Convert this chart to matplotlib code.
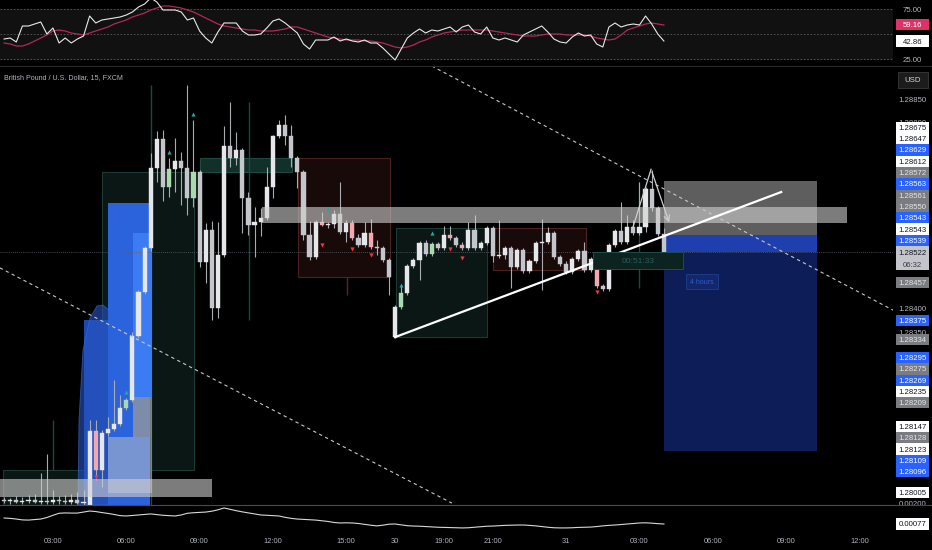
# graphique GBPUSD 15 min, style tradingview sombre

import numpy as np
import matplotlib
matplotlib.use("Agg")
import matplotlib.pyplot as plt
from matplotlib.patches import Rectangle, Polygon
from matplotlib.lines import Line2D

plt.rcParams['font.family'] = ['Liberation Sans', 'DejaVu Sans']

W, H = 932, 550

# bougies de 15 min, index 0 = 03:00 du premier jour
bar_idx = np.arange(-8, 101)

opens = [1.27989, 1.27987, 1.27989, 1.27984, 1.27987, 1.27989, 1.27984, 1.27987,
         1.27984, 1.27989, 1.27987, 1.27984, 1.27989, 1.27982, 1.27976, 1.28137,
         1.28053, 1.28133, 1.28141, 1.28152, 1.28187, 1.28204, 1.28341, 1.28436,
         1.28531, 1.28703, 1.28765, 1.28662, 1.28700, 1.28718, 1.28703, 1.28638,
         1.28694, 1.28500, 1.28569, 1.28402, 1.28516, 1.28750, 1.28724, 1.28741,
         1.28638, 1.28580, 1.28587, 1.28595, 1.28662, 1.28771, 1.28795, 1.28771,
         1.28724, 1.28694, 1.28559, 1.28511, 1.28587, 1.28580, 1.28582, 1.28604,
         1.28565, 1.28584, 1.28552, 1.28537, 1.28563, 1.28533, 1.28531, 1.28505,
         1.28339, 1.28404, 1.28434, 1.28492, 1.28505, 1.28541, 1.28518, 1.28539,
         1.28531, 1.28559, 1.28552, 1.28537, 1.28531, 1.28569, 1.28531, 1.28541,
         1.28574, 1.28513, 1.28516, 1.28531, 1.28490, 1.28526, 1.28481, 1.28503,
         1.28541, 1.28544, 1.28563, 1.28511, 1.28496, 1.28479, 1.28507, 1.28524,
         1.28483, 1.28507, 1.28449, 1.28442, 1.28537, 1.28567, 1.28544, 1.28576,
         1.28563, 1.28576, 1.28657, 1.28617, 1.28561]
highs = [1.27995, 1.27993, 1.27997, 1.27995, 1.28000, 1.28002, 1.28047, 1.28088,
         1.28010, 1.27997, 1.28000, 1.28002, 1.28006, 1.28010, 1.28161, 1.28161,
         1.28139, 1.28167, 1.28247, 1.28215, 1.28208, 1.28350, 1.28440, 1.28535,
         1.28735, 1.28782, 1.28784, 1.28724, 1.28767, 1.28737, 1.28881, 1.28806,
         1.28698, 1.28584, 1.28589, 1.28587, 1.28793, 1.28844, 1.28780, 1.28746,
         1.28651, 1.28619, 1.28617, 1.28705, 1.28774, 1.28806, 1.28817, 1.28795,
         1.28728, 1.28698, 1.28589, 1.28591, 1.28608, 1.28587, 1.28612, 1.28673,
         1.28591, 1.28591, 1.28561, 1.28587, 1.28593, 1.28548, 1.28535, 1.28509,
         1.28408, 1.28451, 1.28496, 1.28509, 1.28546, 1.28548, 1.28544, 1.28544,
         1.28578, 1.28578, 1.28556, 1.28544, 1.28587, 1.28602, 1.28546, 1.28578,
         1.28578, 1.28591, 1.28535, 1.28535, 1.28531, 1.28531, 1.28507, 1.28546,
         1.28593, 1.28576, 1.28567, 1.28516, 1.28503, 1.28511, 1.28528, 1.28544,
         1.28511, 1.28511, 1.28453, 1.28541, 1.28571, 1.28630, 1.28602, 1.28591,
         1.28673, 1.28662, 1.28698, 1.28621, 1.28574]
lows = [1.27982, 1.27980, 1.27982, 1.27980, 1.27982, 1.27982, 1.27980, 1.27980,
        1.27980, 1.27980, 1.27980, 1.27980, 1.27980, 1.27978, 1.27976, 1.28032,
        1.28017, 1.28126, 1.28137, 1.28148, 1.28182, 1.28200, 1.28337, 1.28432,
        1.28524, 1.28673, 1.28632, 1.28640, 1.28651, 1.28623, 1.28602, 1.28619,
        1.28490, 1.28455, 1.28376, 1.28380, 1.28511, 1.28705, 1.28709, 1.28563,
        1.28559, 1.28511, 1.28556, 1.28591, 1.28638, 1.28767, 1.28752, 1.28705,
        1.28660, 1.28548, 1.28505, 1.28507, 1.28578, 1.28574, 1.28574, 1.28561,
        1.28544, 1.28548, 1.28533, 1.28533, 1.28528, 1.28516, 1.28500, 1.28430,
        1.28337, 1.28399, 1.28430, 1.28488, 1.28462, 1.28513, 1.28513, 1.28526,
        1.28526, 1.28548, 1.28533, 1.28526, 1.28526, 1.28526, 1.28526, 1.28537,
        1.28500, 1.28509, 1.28507, 1.28445, 1.28485, 1.28477, 1.28477, 1.28498,
        1.28440, 1.28539, 1.28507, 1.28492, 1.28475, 1.28475, 1.28503, 1.28479,
        1.28479, 1.28445, 1.28438, 1.28438, 1.28533, 1.28539, 1.28539, 1.28559,
        1.28559, 1.28565, 1.28610, 1.28556, 1.28518]
closes = [1.27987, 1.27989, 1.27984, 1.27987, 1.27989, 1.27984, 1.27987, 1.27984,
          1.27989, 1.27987, 1.27984, 1.27989, 1.27982, 1.27984, 1.28137, 1.28053,
          1.28133, 1.28141, 1.28152, 1.28187, 1.28204, 1.28341, 1.28436, 1.28531,
          1.28703, 1.28765, 1.28662, 1.28700, 1.28718, 1.28703, 1.28638, 1.28694,
          1.28500, 1.28569, 1.28402, 1.28516, 1.28750, 1.28724, 1.28741, 1.28638,
          1.28580, 1.28587, 1.28595, 1.28662, 1.28771, 1.28795, 1.28771, 1.28724,
          1.28694, 1.28559, 1.28511, 1.28587, 1.28580, 1.28582, 1.28604, 1.28565,
          1.28584, 1.28552, 1.28537, 1.28563, 1.28533, 1.28531, 1.28505, 1.28468,
          1.28404, 1.28434, 1.28492, 1.28505, 1.28541, 1.28518, 1.28539, 1.28531,
          1.28559, 1.28552, 1.28537, 1.28531, 1.28569, 1.28531, 1.28541, 1.28574,
          1.28513, 1.28516, 1.28531, 1.28490, 1.28526, 1.28481, 1.28503, 1.28541,
          1.28544, 1.28563, 1.28511, 1.28496, 1.28479, 1.28507, 1.28524, 1.28483,
          1.28507, 1.28449, 1.28442, 1.28537, 1.28567, 1.28544, 1.28576, 1.28563,
          1.28576, 1.28657, 1.28617, 1.28561, 1.28522]

pink_bars = [7, 44, 49, 52, 65, 67, 89]
green_bars = [12, 19, 23, 57, 62]

up_marks_idx = [12, 19, 23, 45, 57, 62]
up_marks_price = [1.28221, 1.28737, 1.28819, 1.28614, 1.28451, 1.28563]
dn_marks_idx = [7, 44, 49, 52, 65, 67, 89]
dn_marks_price = [1.28038, 1.28537, 1.28528, 1.28516, 1.28528, 1.28509, 1.28436]

rsi = [45, 46, 42, 58, 58, 60, 62, 50, 56, 41, 46, 41, 45, 48, 68, 61, 64, 65,
       66, 67, 69, 72, 77, 80, 86, 82, 74, 74, 74, 72, 64, 66, 53, 46, 41, 52,
       61, 61, 61, 53, 49, 49, 50, 56, 63, 65, 61, 56, 51, 40, 35, 44, 44, 44,
       47, 43, 45, 43, 42, 44, 41, 41, 36, 30, 24, 35, 46, 51, 55, 51, 54, 53,
       55, 57, 52, 57, 59, 52, 50, 57, 46, 44, 46, 44, 42, 49, 52, 55, 58, 52,
       45, 42, 41, 47, 51, 48, 49, 40, 37, 57, 61, 57, 59, 60, 59, 68, 60, 50, 43]
rsi_ma = [41, 40, 38, 38, 40, 43, 46, 49, 53, 54, 53, 51, 50, 49, 51, 53, 55, 57,
          60, 62, 64, 67, 69, 71, 74, 76, 78, 78, 77, 76, 74, 72, 69, 66, 63, 60,
          58, 57, 56, 55, 54, 54, 53, 53, 53, 54, 55, 57, 57, 55, 53, 51, 49, 47,
          46, 45, 44, 44, 44, 43, 43, 42, 41, 39, 37, 36, 37, 39, 42, 44, 47, 49,
          51, 52, 53, 54, 54, 54, 54, 54, 53, 52, 51, 50, 49, 48, 48, 48, 49, 50,
          50, 50, 49, 49, 49, 49, 48, 46, 45, 44, 45, 49, 54, 56, 58, 60, 61, 60, 59]

atr = [112, 110, 106, 101, 100, 103, 106, 115, 128, 140, 142, 141, 141, 147, 153,
       150, 144, 139, 133, 126, 124, 127, 130, 133, 136, 132, 128, 126, 124, 130,
       140, 143, 145, 147, 152, 160, 171, 163, 155, 148, 142, 136, 130, 128, 126,
       124, 116, 110, 106, 104, 102, 100, 96, 92, 86, 83, 84, 83, 80, 75, 70, 66,
       70, 76, 77, 72, 67, 65, 64, 62, 60, 58, 57, 56, 55, 54, 55, 58, 61, 64, 65,
       67, 69, 70, 71, 71, 69, 66, 62, 58, 55, 54, 54, 55, 57, 58, 59, 62, 66, 69,
       71, 74, 77, 80, 83, 84, 82, 79, 77]
atr = np.array(atr) * 1e-5

time_ticks = [0, 12, 24, 36, 48, 56, 64, 72, 84, 96, 108, 120, 132]
time_labels = ["03:00", "06:00", "09:00", "12:00", "15:00", "30", "19:00",
               "21:00", "31", "03:00", "06:00", "09:00", "12:00"]

# zones dessinees : (x0, x1, y0, y1) en (barre, prix)
teal_boxes = [(-8.2, 5.2, 1.27978, 1.28053), (8.0, 23.1, 1.28053, 1.28694),
              (56.1, 71.0, 1.28339, 1.28574)]
teal_band = (24.1, 39.1, 1.28694, 1.28724)
red_boxes = [(40.1, 55.2, 1.28468, 1.28724), (72.0, 87.2, 1.28483, 1.28574)]
blue_a = (5.1, 12.6, 1.27978, 1.28376)
blue_b = (9.0, 15.9, 1.27978, 1.28627)
blue_c = (13.1, 16.2, 1.28210, 1.28563)
pale_d = (9.0, 16.2, 1.28004, 1.28124)
pale_e = (13.1, 16.2, 1.28124, 1.28210)
dome_x = [4.09, 4.26, 4.91, 6.06, 7.2, 8.18, 9.17, 9.82, 9.82]
dome_y = [1.27978, 1.28161, 1.28311, 1.28380, 1.28406, 1.28408, 1.28397, 1.28376, 1.27978]
gray_bands = [(-8.7, 26.0, 1.27995, 1.28034), (34.2, 130.0, 1.28584, 1.28619)]
pos_gray = (100.0, 125.0, 1.28559, 1.28675)
pos_strip = (100.0, 125.0, 1.28522, 1.28559)
pos_navy = (100.0, 125.0, 1.28094, 1.28522)
timer_box = (88.4, 103.1, 1.28485, 1.28522)
hours_box = (103.6, 108.8, 1.28442, 1.28475)
teal_wicks = [(0.0, 1.28053, 1.28161), (16.0, 1.27978, 1.28881),
              (32.1, 1.28376, 1.28844), (96.0, 1.28445, 1.28673)]

trend_x = [56.0, 119.2]
trend_y = [1.28339, 1.28651]
dash_hi_x = [62.0, 137.5]
dash_hi_y = [1.28922, 1.28397]
dash_lo_x = [-8.7, 65.3]
dash_lo_y = [1.28488, 1.27982]
zig_x = [94.9, 97.9, 101.0]
zig_y = [1.28574, 1.28700, 1.28580]

last_price = 1.28522
label_up_vals = [1.28539, 1.28543, 1.28543, 1.28550, 1.28561, 1.28563, 1.28572,
                 1.28612, 1.28629, 1.28647, 1.28675]
label_up_kind = ['b', 'w', 'b', 'g', 'g', 'b', 'g', 'w', 'b', 'w', 'w']
label_dn_vals = [1.28457, 1.28375, 1.28334, 1.28295, 1.28275, 1.28269, 1.28235,
                 1.28209, 1.28147, 1.28128, 1.28123, 1.28109, 1.28096, 1.28005]
label_dn_kind = ['g', 'b', 'g', 'b', 'g', 'b', 'w', 'g', 'w', 'g', 'w', 'b', 'b', 'w']

P_BOT, P_TOP = 1.27978, 1.28922
X_MIN, X_MAX = -8.67, 137.5

BG = '#000000'
TXT = '#b2b5be'
KIND = {'b': ('#2962ff', '#ffffff'), 'w': ('#ffffff', '#131722'),
        'g': ('#7a7c82', '#e6e6e6')}


def hide_axes(a):
    a.set_facecolor('none')
    a.set_xticks([])
    a.set_yticks([])
    for s in a.spines.values():
        s.set_visible(False)


def add_box(a, b, fc, ec='none', alpha=1.0, z=1, lw=0.8):
    x0, x1, y0, y1 = b
    a.add_patch(Rectangle((x0, y0), x1 - x0, y1 - y0, facecolor=fc, edgecolor=ec,
                          alpha=alpha, zorder=z, linewidth=lw))


def scale_label(a, y, text, fc, tc, h):
    a.add_patch(Rectangle((0.077, y - h / 2), 0.846, h, facecolor=fc,
                          edgecolor='none', zorder=5, clip_on=False))
    a.text(0.5, y, text, color=tc, fontsize=5.6, ha='center',
           va='center_baseline', zorder=6, clip_on=False)


fig = plt.figure(figsize=(W / 100, H / 100), dpi=100, facecolor=BG)
xw = 893 / W
ax_rsi = fig.add_axes([0, 1 - 66 / H, xw, 66 / H])
ax = fig.add_axes([0, 45 / H, xw, 439 / H])
ax_bot = fig.add_axes([0, 17 / H, xw, 28 / H])
ax_rsi_s = fig.add_axes([xw, 1 - 66 / H, 1 - xw, 66 / H], sharey=ax_rsi)
ax_ps = fig.add_axes([xw, 45 / H, 1 - xw, 439 / H], sharey=ax)
ax_bot_s = fig.add_axes([xw, 17 / H, 1 - xw, 28 / H], sharey=ax_bot)
for a in [ax_rsi, ax, ax_bot, ax_rsi_s, ax_ps, ax_bot_s]:
    hide_axes(a)
for a in [ax_rsi, ax, ax_bot]:
    a.set_xlim(X_MIN, X_MAX)
for a in [ax_rsi_s, ax_ps, ax_bot_s]:
    a.set_xlim(0, 1)

# ---- RSI ----
ax_rsi.set_ylim(18, 84)
ax_rsi.axhspan(25, 75, color='#111111', zorder=0)
for lvl in [75, 50, 25]:
    ax_rsi.axhline(lvl, color='#5a5a5a', lw=0.6, dashes=(2, 2), zorder=1)
ax_rsi.plot(bar_idx, rsi_ma, color='#b4275a', lw=0.9, zorder=2)
ax_rsi.plot(bar_idx, rsi, color='#e8e8e8', lw=0.8, zorder=3)
for lvl in [75, 25]:
    ax_rsi_s.text(0.5, lvl, f"{lvl:.2f}", color=TXT, fontsize=5.6, ha='center',
                  va='center_baseline')
scale_label(ax_rsi_s, rsi_ma[-1] + 0.16, "59.16", '#e0306a', '#ffffff', 11.3)
scale_label(ax_rsi_s, rsi[-1] - 0.14, "42.86", '#ffffff', '#131722', 11.3)

# ---- graphique principal ----
ax.set_ylim(P_BOT, P_TOP)
for b in teal_boxes:
    add_box(ax, b, '#0a1714', '#1b3a33', z=1)
add_box(ax, teal_band, '#12302a', '#1e4a42', z=1)
for b in red_boxes:
    add_box(ax, b, '#190a0a', '#4b2020', z=1)
for x, y0, y1 in teal_wicks:
    ax.vlines(x, y0, y1, color='#1d4a40', lw=1.0, zorder=1.2)
ax.vlines(48.1, 1.28430, 1.28468, color='#5a2424', lw=1.0, zorder=1.2)

add_box(ax, blue_a, '#1f4fbf', alpha=0.92, z=1.5)
ax.add_patch(Polygon(np.column_stack([dome_x, dome_y]), closed=True,
                     facecolor='#2856c4', edgecolor='#3d6fe0', alpha=0.6,
                     lw=0.6, zorder=1.6))
add_box(ax, blue_b, '#2b63dc', z=1.7)
add_box(ax, blue_c, '#3c7bf2', z=1.8)
add_box(ax, pale_e, '#9a9a9a', alpha=0.75, z=1.9)
add_box(ax, pale_d, '#c8c8c8', alpha=0.5, z=1.9)

add_box(ax, pos_gray, '#5e5e5e', z=2)
add_box(ax, pos_strip, '#1f3fae', z=2)
add_box(ax, pos_navy, '#0d1d58', z=2)

ax.axhline(last_price, color='#5d606b', lw=0.6, ls=(0, (1, 1.5)), zorder=2.5)

# bougies
o = np.array(opens)
hi = np.array(highs)
lo = np.array(lows)
c = np.array(closes)
colors = []
for i, oo, cc in zip(bar_idx, o, c):
    if i in pink_bars:
        colors.append('#f2a7b1')
    elif i in green_bars:
        colors.append('#a9d9ac')
    elif cc >= oo:
        colors.append('#e6e7ea')
    else:
        colors.append('#c4c6cc')
ax.vlines(bar_idx, lo, hi, color='#a9abb1', lw=0.8, zorder=3)
body_bot = np.minimum(o, c)
body_h = np.maximum(np.abs(c - o), 0.00002)
ax.bar(bar_idx, body_h, bottom=body_bot, width=0.68, color=colors,
       edgecolor=colors, linewidth=0.3, zorder=4)

for b in gray_bands:
    add_box(ax, b, '#d0d0d0', alpha=0.6, z=5)

ax.plot(dash_hi_x, dash_hi_y, color='#c8c8c8', lw=0.8, dashes=(3, 3), zorder=6)
ax.plot(dash_lo_x, dash_lo_y, color='#c8c8c8', lw=0.8, dashes=(3, 3), zorder=6)
ax.plot(trend_x, trend_y, color='#ffffff', lw=1.6, zorder=6)
ax.plot(zig_x[:2], zig_y[:2], color='#d0d0d0', lw=0.9, zorder=6)
ax.annotate('', xy=(zig_x[2], zig_y[2]), xytext=(zig_x[1], zig_y[1]),
            arrowprops=dict(arrowstyle='->', color='#d0d0d0', lw=0.9), zorder=6)

ax.scatter(up_marks_idx, up_marks_price, marker='^', s=9, color='#26a69a',
           linewidths=0, zorder=7)
ax.scatter(dn_marks_idx, dn_marks_price, marker='v', s=9, color='#f23645',
           linewidths=0, zorder=7)

add_box(ax, timer_box, '#0c2320', '#1e4d48', z=7, lw=0.7)
ax.text(sum(timer_box[:2]) / 2, sum(timer_box[2:]) / 2, "00:51:33", color='#24605a',
        fontsize=6, ha='center', va='center_baseline', zorder=8)
add_box(ax, hours_box, '#13276a', '#1d3a8a', z=7, lw=0.7)
ax.text(sum(hours_box[:2]) / 2, sum(hours_box[2:]) / 2, "4 hours", color='#2e5cc8',
        fontsize=5, ha='center', va='center_baseline', zorder=8)

fig.text(4 / W, 1 - 78 / H, "British Pound / U.S. Dollar, 15, FXCM", color=TXT,
         fontsize=5.1, ha='left', va='center')

# ---- echelle de prix ----
ppu = 439 / (P_TOP - P_BOT)
lab_h = 11.3 / ppu

cur_top = last_price + 6 / ppu
cur_bot = last_price - 18 / ppu
ax_ps.add_patch(Rectangle((0.077, cur_bot), 0.846, cur_top - cur_bot,
                          facecolor='#c3c5cb', edgecolor='none', zorder=5))
ax_ps.text(0.5, last_price, f"{last_price:.5f}", color='#131722', fontsize=5.6,
           ha='center', va='center_baseline', zorder=6)
ax_ps.text(0.5, last_price - 12 / ppu, "06:32", color='#3a3d45', fontsize=5.6,
           ha='center', va='center_baseline', zorder=6)

placed = []
edge = cur_top
for v, k in zip(label_up_vals, label_up_kind):
    y = max(v, edge + lab_h / 2)
    edge = y + lab_h / 2
    placed.append(y)
    scale_label(ax_ps, y, f"{v:.5f}", KIND[k][0], KIND[k][1], lab_h)
edge = cur_bot
for v, k in zip(label_dn_vals, label_dn_kind):
    y = min(v, edge - lab_h / 2)
    edge = y - lab_h / 2
    placed.append(y)
    scale_label(ax_ps, y, f"{v:.5f}", KIND[k][0], KIND[k][1], lab_h)

# graduations masquees par les etiquettes, comme sur tradingview
usd_low = P_TOP - 24 / ppu
for t in np.arange(1.2795, 1.2891, 0.0005):
    if not (P_BOT < t < usd_low):
        continue
    if cur_bot - lab_h / 2 < t < cur_top + lab_h / 2:
        continue
    if min(abs(t - p) for p in placed) < 0.4 * lab_h:
        continue
    ax_ps.text(0.5, t, f"{t:.5f}", color=TXT, fontsize=5.6, ha='center',
               va='center_baseline', zorder=2)

fig.add_artist(Rectangle((898 / W, 1 - 88 / H), 30 / W, 16 / H,
                         transform=fig.transFigure, facecolor='#1c1c1c',
                         edgecolor='#3a3a3a', lw=0.6, zorder=10))
fig.text(913 / W, 1 - 80 / H, "USD", color='#d1d4dc', fontsize=5.6,
         ha='center', va='center', zorder=11)

# ---- panneau du bas ----
bot_lo = 0.00077 - 9 * 0.0000586
bot_hi = 0.00077 + 19 * 0.0000586
ax_bot.set_ylim(bot_lo, bot_hi)
ax_bot.plot(bar_idx, atr, color='#d8d8d8', lw=0.8)
scale_label(ax_bot_s, atr[-1], "0.00077", '#ffffff', '#131722', 11.3 * 0.0000586)
ax_bot_s.text(0.5, 0.00200, "0.00200", color=TXT, fontsize=5.6, ha='center',
              va='center_baseline', clip_on=False)
for t, lab in zip(time_ticks, time_labels):
    ax_bot.text(t, -0.29, lab, color=TXT, fontsize=5.4, ha='center', va='center',
                transform=ax_bot.get_xaxis_transform(), clip_on=False)

# separateurs
fig.add_artist(Line2D([0, 1], [1 - 66 / H, 1 - 66 / H], color='#2a2a2a', lw=0.8))
fig.add_artist(Line2D([0, 1], [1 - 505 / H, 1 - 505 / H], color='#4a4a4a', lw=0.8))

fig.savefig("out.png", dpi=100, facecolor=BG)
